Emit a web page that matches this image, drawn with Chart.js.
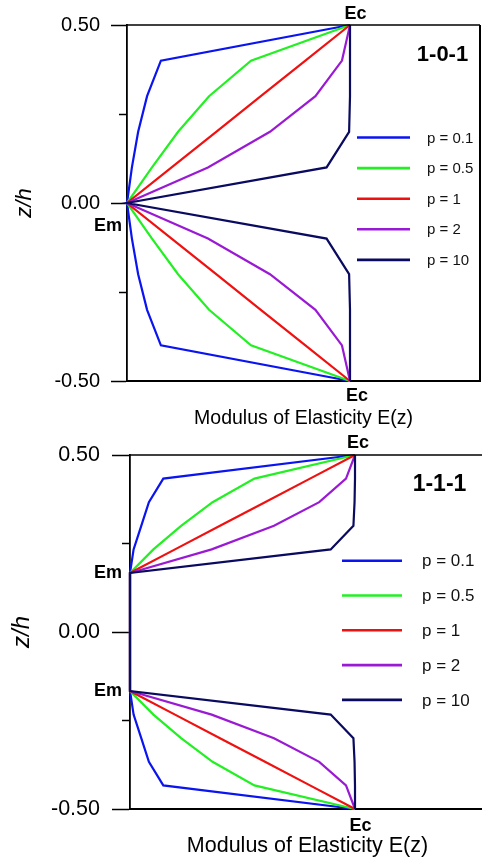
<!DOCTYPE html>
<html><head><meta charset="utf-8">
<script src="https://cdn.jsdelivr.net/npm/chart.js@4.4.1/dist/chart.umd.min.js"></script>
<style>
html,body{margin:0;padding:0;background:#fff;overflow:hidden;width:482px;height:862px}
#wrap{position:relative;width:482px;height:862px;overflow:hidden;background:#fff}
canvas{position:absolute;left:0}
#c1{top:0}
#c2{top:430px}
</style></head><body>
<div id="wrap">
<canvas id="c1" width="482" height="430"></canvas>
<canvas id="c2" width="490" height="432"></canvas>
</div>
<script>
// ---------- data ----------
const seriesLabels = ['p = 0.1', 'p = 0.5', 'p = 1', 'p = 2', 'p = 10'];
const seriesColors = ['#0a14f0', '#22f022', '#f01010', '#9a1ad4', '#0a0a60'];

// panel 1-0-1 : face-sheet z positions (upper half, mirrored below) and E fraction (Em=0, Ec=1)
const zTop = [0, 0.1, 0.2, 0.3, 0.4, 0.5];
const top_p01 = [0, 0.022, 0.05, 0.09, 0.152, 1];
const top_p05 = [0, 0.112, 0.229, 0.368, 0.556, 1];
const top_p1  = [0, 0.2, 0.4, 0.6, 0.8, 1];
const top_p2  = [0, 0.363, 0.641, 0.845, 0.964, 1];
const top_p10 = [0, 0.895, 0.996, 1.0, 1.0, 1];

// panel 1-1-1 : core from -1/6 to 1/6 is Em
const zBot = [1/6, 7/30, 0.3, 11/30, 13/30, 0.5];
const bot_p01 = [0, 0.016, 0.05, 0.084, 0.148, 1];
const bot_p05 = [0, 0.104, 0.227, 0.367, 0.553, 1];
const bot_p1  = [0, 0.2, 0.4, 0.6, 0.8, 1];
const bot_p2  = [0, 0.363, 0.64, 0.841, 0.96, 1];
const bot_p10 = [0, 0.892, 0.993, 0.998, 1.0, 1];

const yLabeledTicks = [-0.5, 0, 0.5];
const yMinorTicks = [-0.25, 0.25];
const xTitle = 'Modulus of Elasticity E(z)';
const yTitle = 'z/h';

// ---------- helpers ----------
const FONT = '"Liberation Sans", Arial, Helvetica, sans-serif';

function buildPoints(zs, es) {
  const pts = [];
  for (let k = zs.length - 1; k >= 0; k--) pts.push({x: es[k], y: zs[k]});
  for (let k = 0; k < zs.length; k++) pts.push({x: es[k], y: -zs[k]});
  return pts;
}

function makeChart(id, zs, seriesArr, st) {
  const datasets = seriesArr.map((es, i) => ({
    label: seriesLabels[i],
    data: buildPoints(zs, es),
    borderColor: seriesColors[i],
    backgroundColor: seriesColors[i],
    borderWidth: 2.2,
    pointRadius: 0,
    tension: 0,
    showLine: true,
    fill: false,
    clip: 6,
    order: seriesArr.length - 1 - i
  }));

  const deco = {
    id: 'deco',
    afterDraw(chart) {
      const ctx = chart.ctx, ca = chart.chartArea;
      const xs = chart.scales.x, ys = chart.scales.y;
      ctx.save();
      // top frame line and right frame line
      ctx.strokeStyle = '#000';
      ctx.lineWidth = 1.5;
      ctx.beginPath();
      ctx.moveTo(ca.left, ca.top);
      ctx.lineTo(ca.right, ca.top);
      ctx.stroke();
      ctx.lineWidth = 2;
      ctx.beginPath();
      ctx.moveTo(ca.right, ca.top);
      ctx.lineTo(ca.right, ca.bottom);
      ctx.stroke();

      // Ec / Em labels
      ctx.fillStyle = '#000';
      ctx.font = 'bold 18px ' + FONT;
      ctx.textAlign = 'center';
      ctx.textBaseline = 'middle';
      const ecx = xs.getPixelForValue(1);
      ctx.fillText('Ec', ecx + st.ecTopDx, ca.top + st.ecTopDy);
      ctx.fillText('Ec', ecx + st.ecBotDx, ca.bottom + st.ecBotDy);
      ctx.textAlign = 'right';
      st.emZ.forEach(z => {
        ctx.fillText('Em', ca.left + st.emDx, ys.getPixelForValue(z) + st.emDy);
      });

      // panel label
      ctx.font = 'bold ' + st.panelFont + 'px ' + FONT;
      ctx.textAlign = 'center';
      ctx.fillText(st.panel, st.panelX, st.panelY);

      // legend
      const L = st.legend;
      ctx.font = L.font + 'px ' + FONT;
      ctx.textAlign = 'left';
      chart.data.datasets.forEach((ds, i) => {
        const y = L.y0 + i * L.dy;
        ctx.strokeStyle = ds.borderColor;
        ctx.lineWidth = 2.6;
        ctx.beginPath();
        ctx.moveTo(L.x1, y);
        ctx.lineTo(L.x2, y);
        ctx.stroke();
        ctx.fillStyle = '#111';
        ctx.fillText(ds.label, L.tx, y + 1);
      });
      ctx.restore();
    }
  };

  const isMinor = v => yMinorTicks.some(m => Math.abs(m - v) < 1e-9);

  return new Chart(document.getElementById(id), {
    type: 'scatter',
    data: {datasets},
    plugins: [deco],
    options: {
      responsive: false,
      animation: false,
      events: [],
      layout: {padding: {top: st.padTop, right: st.padRight, left: 0, bottom: 0}},
      plugins: {legend: {display: false}, tooltip: {enabled: false}},
      scales: {
        x: {
          type: 'linear',
          min: 0,
          max: st.xMax,
          grid: {display: false, drawTicks: false},
          border: {display: true, color: '#000', width: 2},
          ticks: {display: false},
          title: {display: true, text: xTitle, color: '#000',
                  font: {family: FONT, size: st.xTitleSize}, padding: {top: 0, bottom: st.xTitlePad}},
          afterFit(scale) { scale.height = st.xAxisH; }
        },
        y: {
          type: 'linear',
          min: -0.5,
          max: 0.5,
          grid: {
            drawOnChartArea: false,
            drawTicks: true,
            tickLength: st.major,
            tickColor: '#000',
            tickWidth: 1.5,
            tickBorderDash: c => (c.tick && isMinor(c.tick.value)) ? [8, st.major - 8] : [],
            tickBorderDashOffset: c => (c.tick && isMinor(c.tick.value)) ? 8 : 0
          },
          border: {display: true, color: '#000', width: 1.8},
          ticks: {
            stepSize: 0.25,
            padding: st.tickPad,
            color: '#000',
            font: {family: FONT, size: st.tickSize},
            callback: v => yLabeledTicks.some(m => Math.abs(m - v) < 1e-9) ? Number(v).toFixed(2) : ''
          },
          title: {display: true, text: yTitle, color: '#000',
                  font: {family: FONT, size: st.yTitleSize, style: 'italic'}, padding: {top: st.yTitlePad, bottom: 0}},
          afterFit(scale) { scale.width = st.yAxisW; }
        }
      }
    }
  });
}

makeChart('c1', zTop, [top_p01, top_p05, top_p1, top_p2, top_p10], {
  padTop: 25, padRight: 2, xMax: 353 / 223, xAxisH: 49, yAxisW: 127,
  xTitleSize: 19.5, xTitlePad: 0, tickSize: 20, tickPad: 11, major: 16,
  yTitleSize: 22, yTitlePad: 12,
  ecTopDx: 5.5, ecTopDy: -11, ecBotDx: 7, ecBotDy: 15,
  emZ: [0], emDx: -5, emDy: 23,
  panel: '1-0-1', panelFont: 22, panelX: 442.5, panelY: 55,
  legend: {x1: 357, x2: 410, tx: 427, y0: 137.5, dy: 30.6, font: 15}
});

makeChart('c2', zBot, [bot_p01, bot_p05, bot_p1, bot_p2, bot_p10], {
  padTop: 25, padRight: 5, xMax: 355 / 225, xAxisH: 53, yAxisW: 130,
  xTitleSize: 21.5, xTitlePad: 3, tickSize: 21.5, tickPad: 12, major: 18,
  yTitleSize: 24, yTitlePad: 8,
  ecTopDx: 3, ecTopDy: -11.5, ecBotDx: 5.5, ecBotDy: 17.5,
  emZ: [1/6, -1/6], emDx: -8, emDy: 0,
  panel: '1-1-1', panelFont: 23, panelX: 439.5, panelY: 55,
  legend: {x1: 342, x2: 402, tx: 422, y0: 130.7, dy: 34.8, font: 17}
});
</script>
</body></html>
